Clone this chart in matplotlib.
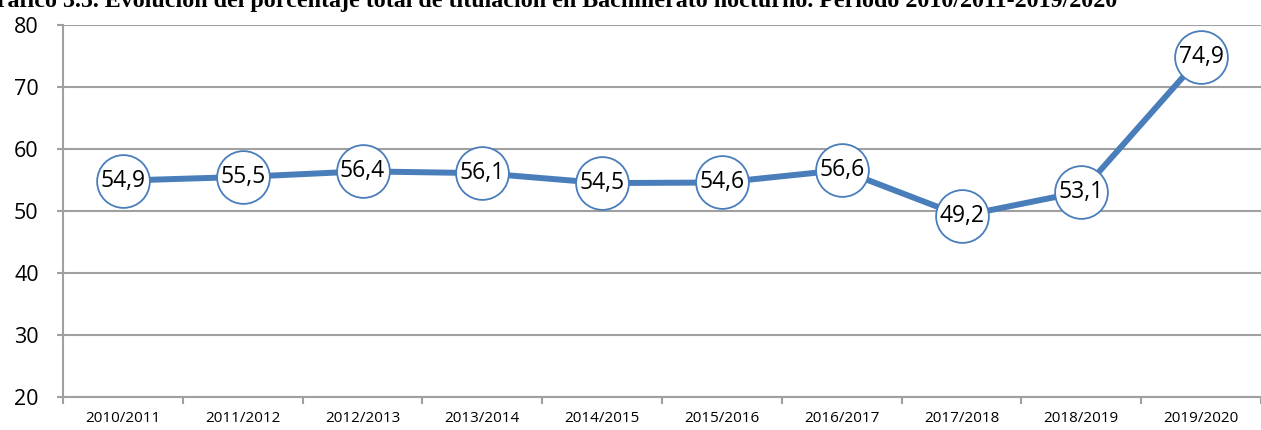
import matplotlib.pyplot as plt

# Datos del gráfico
cursos = ['2010/2011', '2011/2012', '2012/2013', '2013/2014', '2014/2015',
          '2015/2016', '2016/2017', '2017/2018', '2018/2019', '2019/2020']
porcentaje = [54.9, 55.5, 56.4, 56.1, 54.5, 54.6, 56.6, 49.2, 53.1, 74.9]
titulo = ('Gráfico 3.5. Evolución del porcentaje total de titulación en '
          'Bachillerato nocturno. Periodo 2010/2011-2019/2020')

W, H = 1261, 430
fig = plt.figure(figsize=(W / 100, H / 100), dpi=100)
ax = fig.add_axes([63 / W, 1 - 397 / H, (W - 63) / W, (397 - 25) / H])

azul = '#4A7EBB'
gris = '#A0A0A0'

x = list(range(len(cursos)))
ax.plot(x, porcentaje, color=azul, lw=4.3, marker='o', markersize=38,
        markerfacecolor='white', markeredgecolor=azul, markeredgewidth=1.3,
        zorder=3, clip_on=False)
for xi, v in zip(x, porcentaje):
    ax.text(xi, v, f'{v:.1f}'.replace('.', ','), ha='center', va='center',
            fontsize=16.5, family='Open Sans', zorder=4)

ax.set_xlim(-0.5, len(cursos) - 0.5)
ax.set_ylim(20, 80)
ax.set_yticks(range(20, 81, 10))
ax.set_yticklabels([str(t) for t in range(20, 81, 10)], fontsize=15.5, family='Open Sans')
ax.yaxis.grid(True, color=gris, lw=1.5)
ax.set_axisbelow(True)

# ticks entre categorías, etiquetas centradas
ax.set_xticks([i - 0.5 for i in range(len(cursos) + 1)])
ax.set_xticklabels([])
ax.set_xticks(x, minor=True)
ax.set_xticklabels(cursos, minor=True, fontsize=11, family='Open Sans')
ax.tick_params(axis='x', which='minor', length=0, pad=10)
ax.tick_params(axis='x', which='major', length=5, color=gris, width=1.5)
ax.tick_params(axis='y', length=4.5, color=gris, width=1.5, pad=13)

for s in ['top', 'right']:
    ax.spines[s].set_visible(False)
ax.spines['left'].set_color(gris)
ax.spines['left'].set_linewidth(1.5)
ax.spines['bottom'].set_color(gris)
ax.spines['bottom'].set_linewidth(1.5)

# título (recortado en el borde superior, como en el original)
fig.text(1117 / W, 1 - 7 / H, titulo, ha='right', va='baseline',
         fontsize=17.3, fontweight='bold', family='Liberation Serif')

fig.savefig('out.png', dpi=100)
